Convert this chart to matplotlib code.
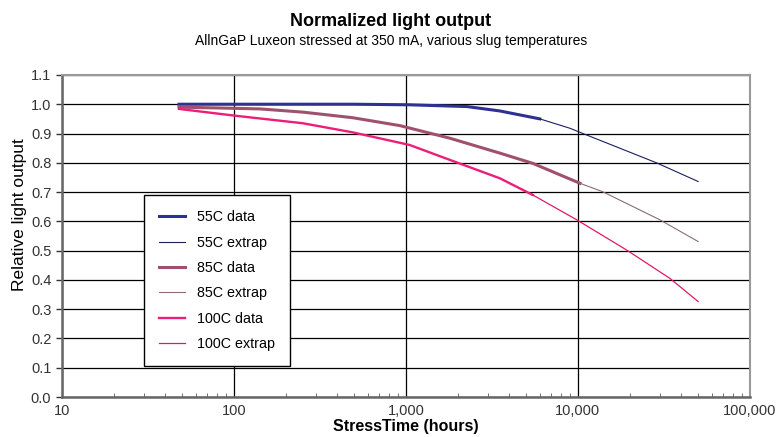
import matplotlib
matplotlib.use("Agg")
import matplotlib.pyplot as plt
from matplotlib.ticker import FixedLocator, FuncFormatter, LogLocator, NullFormatter

plt.rcParams['font.family'] = ['Liberation Sans', 'DejaVu Sans']

# 55C
h55_data = [48, 100, 250, 500, 1050, 2265, 3520, 6000]
v55_data = [1.0, 1.0, 1.0, 1.0, 0.998, 0.992, 0.977, 0.95]
h55_ext = [6000, 8980, 10280, 28600, 50000]
v55_ext = [0.95, 0.918, 0.904, 0.800, 0.736]

# 85C
h85_data = [48, 101, 142, 252, 490, 922, 1800, 3520, 5470, 10280]
v85_data = [0.99, 0.986, 0.984, 0.973, 0.954, 0.927, 0.884, 0.833, 0.798, 0.730]
h85_ext = [10280, 13960, 30000, 50000]
v85_ext = [0.730, 0.701, 0.605, 0.531]

# 100C
h100_data = [48, 101, 252, 490, 1050, 1800, 3520, 5470]
v100_data = [0.984, 0.961, 0.935, 0.904, 0.861, 0.810, 0.747, 0.690]
h100_ext = [5470, 9860, 19200, 34300, 50000]
v100_ext = [0.690, 0.605, 0.502, 0.405, 0.326]

fig = plt.figure(figsize=(7.82, 4.37), dpi=100)
ax = fig.add_axes([0.079, 0.0915, 0.88, 0.737])

ax.plot(h55_data, v55_data, color='#2e3192', lw=2.2, label='55C data', zorder=3)
ax.plot(h55_ext, v55_ext, color='#1b1f5e', lw=0.8, label='55C extrap', zorder=3)
ax.plot(h85_data, v85_data, color='#a0506e', lw=2.2, label='85C data', zorder=3)
ax.plot(h85_ext, v85_ext, color='#8a6c78', lw=0.8, label='85C extrap', zorder=3)
ax.plot(h100_data, v100_data, color='#ec1e79', lw=1.7, label='100C data', zorder=3)
ax.plot(h100_ext, v100_ext, color='#e0186a', lw=0.9, label='100C extrap', zorder=3)

ax.set_xscale('log')
ax.set_xlim(10, 100000)
ax.set_ylim(0, 1.1)
ax.set_yticks([i / 10 for i in range(12)])
ax.yaxis.set_major_formatter(FuncFormatter(lambda v, p: f'{v:.1f}'))
ax.xaxis.set_major_locator(FixedLocator([10, 100, 1000, 10000, 100000]))
ax.xaxis.set_major_formatter(FuncFormatter(lambda v, p: f'{int(v):,}'))
ax.xaxis.set_minor_locator(LogLocator(base=10, subs=[2, 3, 4, 5, 6, 7, 8, 9]))
ax.xaxis.set_minor_formatter(NullFormatter())

ax.grid(True, which='major', color='black', lw=0.9)
ax.set_axisbelow(True)
ax.tick_params(axis='both', which='major', labelsize=10.5, colors='#333333', length=4, width=1)
ax.tick_params(axis='x', which='major', length=0, pad=5)
ax.tick_params(axis='x', which='minor', direction='in', length=3, color='#555555')

for side in ['top', 'right']:
    ax.spines[side].set_color('#999999')
    ax.spines[side].set_linewidth(1.5)
ax.spines['left'].set_color('#666666')
ax.spines['left'].set_linewidth(1.8)
ax.spines['bottom'].set_color('#666666')
ax.spines['bottom'].set_linewidth(1.8)

ax.set_xlabel('StressTime (hours)', fontsize=11.5, fontweight='bold', labelpad=1)
ax.set_ylabel('Relative light output', fontsize=12.5)
ax.yaxis.set_label_coords(-0.05, 0.565)

fig.text(0.5, 0.94, 'Normalized light output', ha='center', fontsize=13, fontweight='bold')
fig.text(0.5, 0.898, 'AllnGaP Luxeon stressed at 350 mA, various slug temperatures', ha='center', fontsize=10)

leg = ax.legend(loc='upper left', bbox_to_anchor=(0.12, 0.627), fontsize=10.3, labelspacing=0.8,
                handlelength=1.8, handletextpad=0.85, borderpad=1.05, fancybox=False,
                framealpha=1, edgecolor='black', borderaxespad=0)
leg.get_frame().set_linewidth(1.0)

fig.savefig('out.png', dpi=100)
